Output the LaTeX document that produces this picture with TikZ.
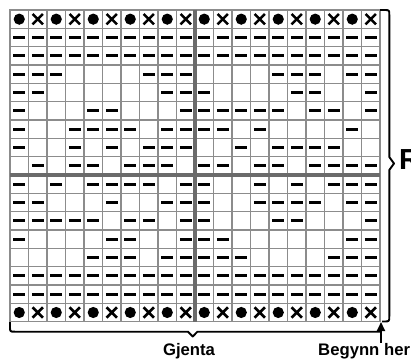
\documentclass[tikz,border=0pt]{standalone}
\usepackage{fontspec}
\setmainfont{Liberation Sans}
\usetikzlibrary{arrows.meta}

\tikzset{
  gridline/.style={draw=black!45, line width=1.2pt},
  midline/.style={draw=black!58, line width=3.8pt},
  purl/.style={line width=2.7pt},
  knitx/.style={line width=2.5pt},
  brace/.style={line width=1.9pt, line join=round},
  notetext/.style={font=\bfseries\fontsize{16.7}{20}\selectfont, inner sep=0pt},
  startarrow/.style={line width=1.9pt, -{Triangle[length=9pt, width=8pt]}}
}

\begin{document}
\begin{tikzpicture}[x=1pt, y=-1pt]
  \useasboundingbox (0,0) rectangle (411,363);
  \begin{scope}[shift={(10,10)}, x=18.5pt, y=-18.333pt]
    \foreach \c in {1,...,19} { \draw[gridline] (\c,0) -- (\c,17); }
    \foreach \r in {1,...,16} { \draw[gridline] (0,\r) -- (20,\r); }
    \draw[gridline] (0,0) rectangle (20,17);
    \draw[midline] (10,0) -- (10,17);
    \draw[midline] (0,9) -- (20,9);

    \foreach \r in {1,17} {
      \foreach \c in {1,3,...,19} { \fill (\c-0.5,\r-0.5) circle (5.6pt); }
      \foreach \c in {2,4,...,20} { \draw[knitx] (\c-0.5,\r-0.5) +(-5.2pt,-5.2pt) -- +(5.2pt,5.2pt) +(-5.2pt,5.2pt) -- +(5.2pt,-5.2pt); }
    }

    \foreach \r/\cols in {2/{1,...,20}, 3/{1,...,20},
        4/{1,2,3,8,9,10,15,16,17,19,20},
        5/{1,2,9,10,11,16,17,20},
        6/{1,5,6,10,11,12,13,14,15,17,18,20},
        7/{1,4,5,6,7,9,10,11,12,14,19},
        8/{1,4,6,8,9,10,13,15,16,17,18},
        9/{2,4,5,7,8,9,11,12,14,15,17,18,19,20},
        10/{1,3,5,6,7,8,10,11,14,16,18,19,20},
        11/{1,2,6,9,10,11,14,15,16,17,19,20},
        12/{1,2,3,4,5,7,8,10,11,15,16,20},
        13/{1,6,7,10,11,12,19,20},
        14/{5,6,7,9,10,11,12,13,18,19,20},
        15/{1,...,20}, 16/{1,...,20}} {
      \foreach \c in \cols { \draw[purl] (\c-0.82,\r-0.5) -- (\c-0.18,\r-0.5); }
    }
  \end{scope}

  \draw[brace] (380,10) -- (384,10) .. controls (389.3,10) .. (389.3,15) -- (389.3,157)
    -- (394,163.5) -- (389.3,170) -- (389.3,316) .. controls (389.3,321.5) .. (384,321.5) -- (382,321.5);
  \draw[brace] (10,322) -- (10,326.7) .. controls (10,331.7) .. (15,331.7) -- (188,331.7)
    -- (192.7,336.5) -- (197.4,331.7) -- (381,331.7);

  \node[notetext, anchor=base] (gjenta) at (189,355) {Gjenta};
  \node[notetext, anchor=base west] (begynn) at (318,355) {Begynn her};
  \node[notetext, font=\bfseries\fontsize{29}{32}\selectfont, anchor=base west] (rapport) at (399,169.3) {R};

  \coordinate (start) at (381,322);
  \draw[startarrow] (start |- begynn.north) -- (start);
\end{tikzpicture}
\end{document}
